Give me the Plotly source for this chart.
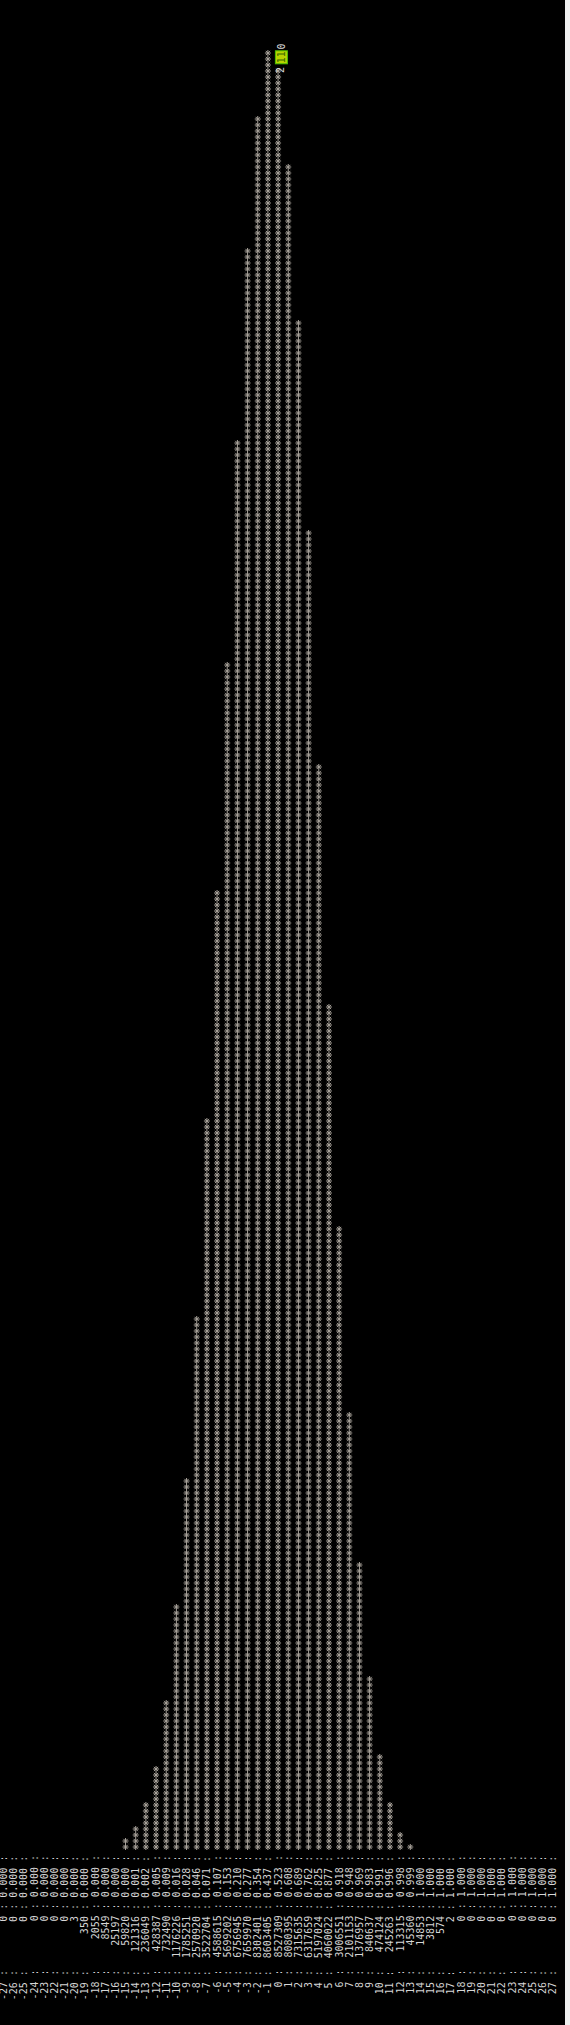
import plotly.graph_objects as go

# ---- data ----
values = list(range(-27, 28))
counts = [0, 0, 0, 0, 0, 0, 0,
          3, 350, 2055, 8549, 25197, 59820, 121316, 236049, 428387, 732490,
          1176226, 1785251, 2570920, 3522704, 4588615, 5699202, 6756945,
          7659970, 8302401, 8603405, 8527309, 8080395, 7315635, 6317659,
          5197024, 4060022, 3006551, 2101153, 1376957, 840637, 474124,
          245263, 113315, 45360, 14853, 3812, 574, 2,
          0, 0, 0, 0, 0, 0, 0, 0, 0, 0]
cum_labels = (["0.000"] * 13 +
              ["0.001", "0.002", "0.005", "0.009", "0.016", "0.028", "0.046",
               "0.071", "0.107", "0.153", "0.210", "0.277", "0.354", "0.437",
               "0.523", "0.608", "0.689", "0.762", "0.825", "0.877", "0.918",
               "0.948", "0.969", "0.983", "0.991", "0.996", "0.998", "0.999"] +
              ["1.000"] * 14)
bar_width = 300          # stars for the largest bin
peak_label = ["2", "11", "0"]

assert len(values) == len(counts) == len(cum_labels) == 55

NB = "\u00a0"
FONT = "DejaVu Sans Mono"
TXT = "#d6d6d6"
STAR = "#aaa49c"

cmax = max(counts)
sx, sy = [], []
for v, c in zip(values, counts):
    n = int(c * bar_width / cmax)
    for k in range(n):
        sx.append(v)
        sy.append(25.5 + k)

fig = go.Figure()
fig.add_trace(go.Scatter(
    x=sx, y=sy, mode="markers",
    marker=dict(symbol="asterisk-open", size=5, color=STAR,
                line=dict(color=STAR, width=1)),
    hoverinfo="skip", showlegend=False))

annotations = []
for v, c, cum in zip(values, counts, cum_labels):
    s = f"{v:>3} : {c:>8} : {cum} :".replace(" ", NB)
    annotations.append(dict(
        x=v, y=0, xref="x", yref="y", text=s, textangle=-90,
        xanchor="center", yanchor="bottom", showarrow=False,
        borderpad=0, borderwidth=0,
        font=dict(family=FONT, size=10, color=TXT)))

# highlighted peak label
peak_x = values[counts.index(cmax)] + 1
annotations.append(dict(x=peak_x, y=321.7, xref="x", yref="y", text=peak_label[0],
                        textangle=-90, showarrow=False, xshift=3, borderpad=0,
                        font=dict(family=FONT, size=10, color=TXT)))
annotations.append(dict(x=peak_x, y=323.8, xref="x", yref="y", text=peak_label[1],
                        textangle=-90, showarrow=False, xshift=3, borderpad=0,
                        bgcolor="#b8d400", bordercolor="#4cc000", borderwidth=1,
                        font=dict(family=FONT, size=10, color="#3a6a00")))
annotations.append(dict(x=peak_x, y=325.6, xref="x", yref="y", text=peak_label[2],
                        textangle=-90, showarrow=False, xshift=3, borderpad=0,
                        font=dict(family=FONT, size=10, color=TXT)))

W = 565
step = 10.17
x0px = 3.5
fig.update_layout(
    width=W, height=2025,
    margin=dict(l=0, r=0, t=0, b=0),
    paper_bgcolor="black", plot_bgcolor="black",
    xaxis=dict(range=[-27 - x0px / step, -27 + (W - x0px) / step],
               visible=False, fixedrange=True),
    yaxis=dict(range=[-25 / 6, 2000 / 6], visible=False, fixedrange=True),
    annotations=annotations,
    showlegend=False,
)
fig.write_html("out.html",
               config={"displayModeBar": False, "staticPlot": True},
               post_script="document.body.style.margin='0';"
                           "document.body.style.background='#f0f0f0';")
